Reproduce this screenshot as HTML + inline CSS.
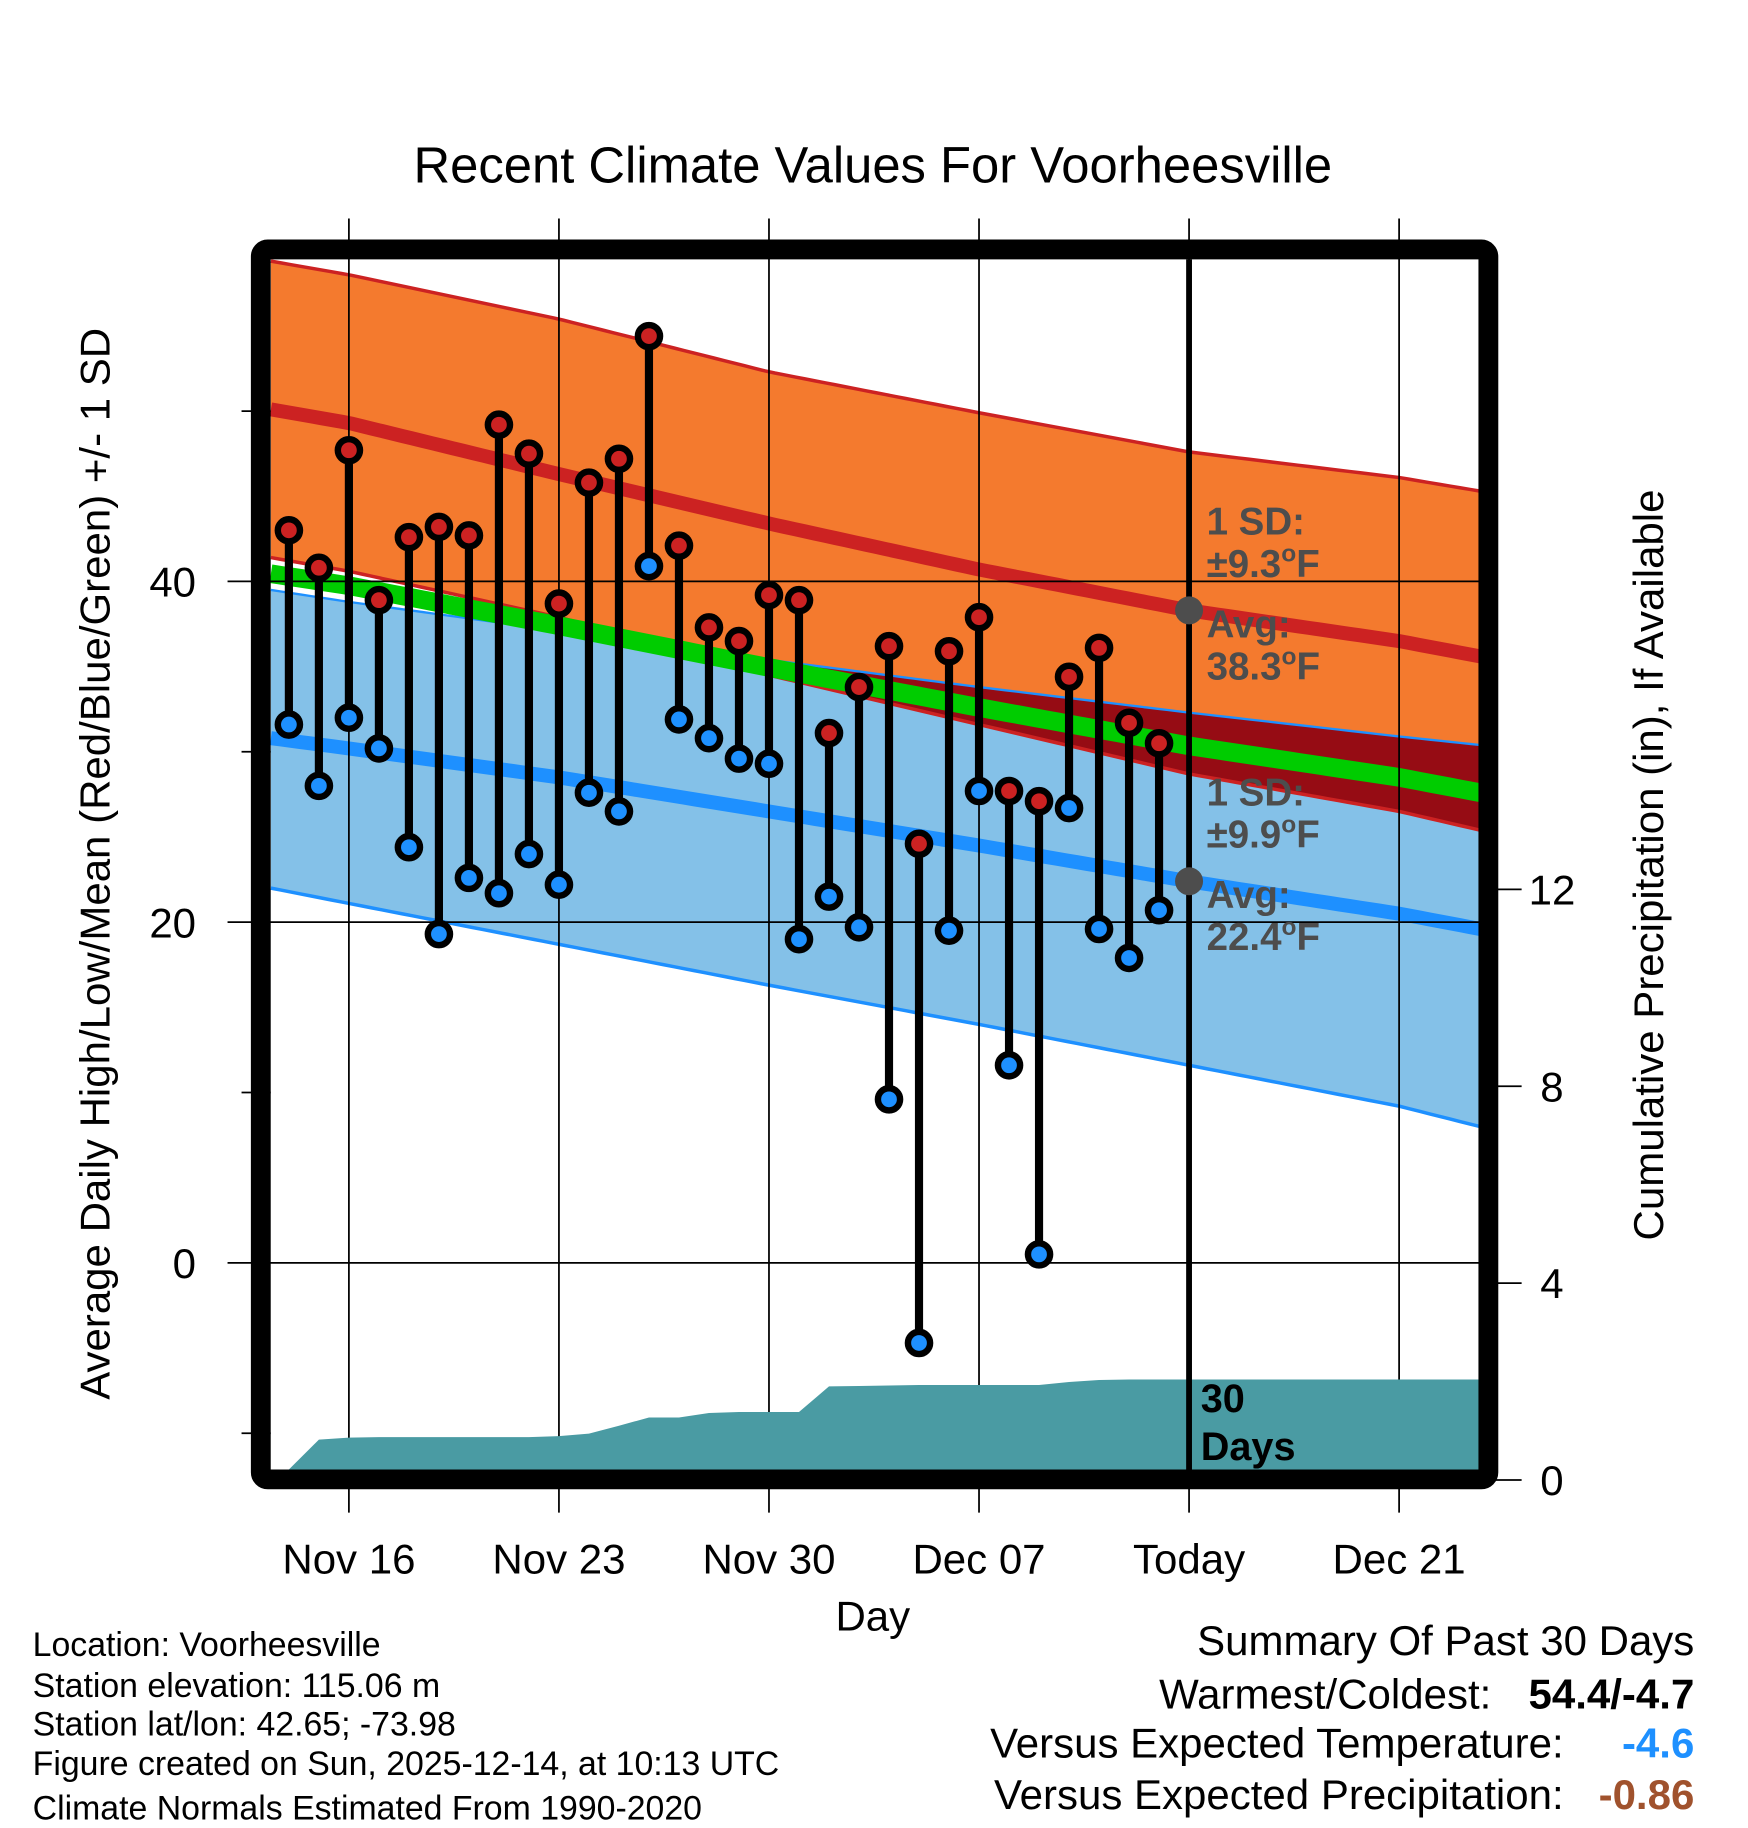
<!DOCTYPE html>
<html><head><meta charset="utf-8"><style>
html,body{margin:0;padding:0;background:#fff;}
svg{display:block;font-family:"Liberation Sans",Arial,sans-serif;}
</style></head><body>
<svg id="chart" width="1748" height="1828" viewBox="0 0 1498 1566" xmlns="http://www.w3.org/2000/svg">
<g id="bands"></g>
<g id="grid"></g>
<g id="precip"></g>
<g id="marks"></g>
<g id="frame"></g>
<g id="labels">
<text x="748" y="156" font-size="43.5" text-anchor="middle">Recent Climate Values For Voorheesville</text>
<text transform="translate(94,740) rotate(-90)" font-size="36" text-anchor="middle">Average Daily High/Low/Mean (Red/Blue/Green) +/- 1 SD</text>
<text transform="translate(1425,741) rotate(-90)" font-size="36" text-anchor="middle">Cumulative Precipitation (in), If Available</text>
<text x="748" y="1397" font-size="36" text-anchor="middle">Day</text>
<g font-size="33" font-weight="bold" fill="#4d4d4d">
<text x="1034" y="458">1 SD:</text>
<text x="1034" y="494">±9.3<tspan dy="-13" font-size="21">o</tspan><tspan dy="13">F</tspan></text>
<text x="1034" y="546">Avg:</text>
<text x="1034" y="582">38.3<tspan dy="-13" font-size="21">o</tspan><tspan dy="13">F</tspan></text>
<text x="1034" y="690">1 SD:</text>
<text x="1034" y="726">±9.9<tspan dy="-13" font-size="21">o</tspan><tspan dy="13">F</tspan></text>
<text x="1034" y="778">Avg:</text>
<text x="1034" y="814">22.4<tspan dy="-13" font-size="21">o</tspan><tspan dy="13">F</tspan></text>
</g>
<text x="1029" y="1210" font-size="34" font-weight="bold">30</text>
<text x="1029" y="1251" font-size="34" font-weight="bold">Days</text>
<g font-size="29">
<text x="28" y="1419">Location: Voorheesville</text>
<text x="28" y="1454">Station elevation: 115.06 m</text>
<text x="28" y="1487">Station lat/lon: 42.65; -73.98</text>
<text x="28" y="1521">Figure created on Sun, 2025-12-14, at 10:13 UTC</text>
<text x="28" y="1559">Climate Normals Estimated From 1990-2020</text>
</g>
<g font-size="36" text-anchor="end">
<text x="1452" y="1418">Summary Of Past 30 Days</text>
<text x="1278" y="1464">Warmest/Coldest:</text>
<text x="1452" y="1464" font-weight="bold">54.4/-4.7</text>
<text x="1340" y="1506">Versus Expected Temperature:</text>
<text x="1452" y="1506" font-weight="bold" fill="#1e90ff">-4.6</text>
<text x="1340" y="1550">Versus Expected Precipitation:</text>
<text x="1452" y="1550" font-weight="bold" fill="#a0522d">-0.86</text>
</g>
</g>
</svg>
<script>
// day numbers: Nov 1 = 1, Dec 1 = 31
const normDays   = [13.4, 16, 23, 30, 37, 44, 51, 53.7];
const highTop    = [58.8, 58.0, 55.4, 52.3, 49.9, 47.6, 46.1, 45.3];
const highMean   = [50.1, 49.3, 46.3, 43.4, 40.7, 38.3, 36.5, 35.6];
const highBot    = [41.4, 40.6, 37.9, 34.5, 31.6, 28.7, 26.5, 25.4];
const lowTop     = [39.5, 38.8, 37.1, 35.4, 33.8, 32.3, 30.9, 30.4];
const lowMean    = [30.8, 30.2, 28.5, 26.5, 24.5, 22.4, 20.5, 19.6];
const lowBot     = [22.0, 21.1, 18.7, 16.3, 14.0, 11.6, 9.2, 8.0];
const obsDays    = [14,15,16,17,18,19,20,21,22,23,24,25,26,27,28,29,30,31,32,33,34,35,36,37,38,39,40,41,42,43];
const highs      = [43.0,40.8,47.7,38.9,42.6,43.2,42.7,49.2,47.5,38.7,45.8,47.2,54.4,42.1,37.3,36.5,39.2,38.9,31.1,33.8,36.2,24.6,35.9,37.9,27.7,27.1,34.4,36.1,31.7,30.5];
const lows       = [31.6,28.0,32.0,30.2,24.4,19.3,22.6,21.7,24.0,22.2,27.6,26.5,40.9,31.9,30.8,29.6,29.3,19.0,21.5,19.7,9.6,-4.7,19.5,27.7,11.6,0.5,26.7,19.6,17.9,20.7];
const precipDays = [14,15,16,17,18,19,20,21,22,23,24,25,26,27,28,29,30,31,32,33,34,35,36,37,38,39,40,41,42,43,53.7];
const precip     = [0,0.82,0.86,0.87,0.87,0.87,0.87,0.87,0.87,0.89,0.94,1.10,1.27,1.27,1.36,1.38,1.38,1.38,1.90,1.91,1.92,1.93,1.93,1.93,1.93,1.93,1.99,2.03,2.04,2.04,2.04];
const xTickDays  = [16,23,30,37,44,51];
const xTickLabels= ["Nov 16","Nov 23","Nov 30","Dec 07","Today","Dec 21"];
const yTicks     = [0,20,40];
const yMinor     = [-10,10,30,50];
const y2Ticks    = [0,4,8,12];
const todayDay   = 44;

const NS="http://www.w3.org/2000/svg";
const X0=232,X1=1268,Y0=222,Y1=1259;
const xS=d=>299+(d-16)*180/7;
const yS=t=>1082-t*292/20;
const pS=p=>1268-p*168.7/4;
function mk(tag,attrs,parent){const e=document.createElementNS(NS,tag);for(const k in attrs)e.setAttribute(k,attrs[k]);parent.appendChild(e);return e;}
function interp(arr,d){for(let i=0;i<normDays.length-1;i++){if(d<=normDays[i+1]){const f=(d-normDays[i])/(normDays[i+1]-normDays[i]);return arr[i]+f*(arr[i+1]-arr[i]);}}return arr[arr.length-1];}
const samp=[];for(let i=0;i<=120;i++)samp.push(normDays[0]+(normDays[normDays.length-1]-normDays[0])*i/120);
const bands=document.getElementById('bands');
function band(top,bot,fill,name){
  let pts=samp.map(d=>xS(d)+','+yS(top(d))).concat(samp.slice().reverse().map(d=>xS(d)+','+yS(bot(d))));
  const p=mk('polygon',{points:pts.join(' '),fill:fill},bands);
  
  
}
function line(f,color,w,name){
  const p=mk('polyline',{points:samp.map(d=>xS(d)+','+yS(f(d))).join(' '),fill:'none',stroke:color,'stroke-width':w},bands);
  
  
}
band(d=>interp(highTop,d),d=>interp(highBot,d),'#f47a2e','high-sd-band');
band(d=>interp(lowTop,d),d=>interp(lowBot,d),'#84c1e8','low-sd-band');
band(d=>interp(lowTop,d),d=>Math.min(interp(lowTop,d),interp(highBot,d)),'#960c14','overlap-band');
line(d=>interp(highTop,d),'#cc2222',3,'high-top-edge');
line(d=>interp(highBot,d),'#cc2222',3,'high-bottom-edge');
line(d=>interp(lowTop,d),'#1e90ff',2,'low-top-edge');
line(d=>interp(lowBot,d),'#1e90ff',3,'low-bottom-edge');
line(d=>(interp(highMean,d)+interp(lowMean,d))/2,'#00cc00',16,'mean-line');
line(d=>interp(highMean,d),'#cc2222',12,'high-mean-line');
line(d=>interp(lowMean,d),'#1e90ff',12,'low-mean-line');

const grid=document.getElementById('grid');
xTickDays.forEach((d,i)=>{
  const g=mk('line',{x1:xS(d),x2:xS(d),y1:187,y2:1296,stroke:'#000','stroke-width':1.5},grid);
  
  
  const t=mk('text',{x:xS(d),y:1348,'font-size':36,'text-anchor':'middle'},grid);
  
  
  t.textContent=xTickLabels[i];
});
yTicks.forEach(v=>{
  const g=mk('line',{x1:195,x2:X1,y1:yS(v),y2:yS(v),stroke:'#000','stroke-width':1.5},grid);
  
  
  const t=mk('text',{x:168,y:yS(v)+13,'font-size':36,'text-anchor':'end'},grid);
  
  
  t.textContent=v;
});
yMinor.forEach(v=>{
  const g=mk('line',{x1:207,x2:X0,y1:yS(v),y2:yS(v),stroke:'#000','stroke-width':1.5},grid);
  
  
});
y2Ticks.forEach(v=>{
  const g=mk('line',{x1:1276,x2:1304,y1:pS(v),y2:pS(v),stroke:'#000','stroke-width':1.5},grid);
  
  
  const t=mk('text',{x:1330,y:pS(v)+13,'font-size':36,'text-anchor':'middle'},grid);
  
  
  t.textContent=v;
});

const pg=document.getElementById('precip');
let pp=[xS(precipDays[0])+','+Y1];
precipDays.forEach((d,i)=>pp.push(Math.min(xS(d),X1)+','+Math.min(pS(precip[i]),Y1)));
pp.push(X1+','+Y1);
const pa=mk('polygon',{points:pp.join(' '),fill:'#4a9ba3'},pg);


const tl=mk('line',{x1:xS(todayDay),x2:xS(todayDay),y1:Y0,y2:Y1,stroke:'#000','stroke-width':5},pg);


[interp(highMean,todayDay),interp(lowMean,todayDay)].forEach(v=>{
  const c=mk('circle',{cx:xS(todayDay),cy:yS(v),r:12,fill:'#4d4d4d'},pg);
  
  
});

const mg=document.getElementById('marks');
obsDays.forEach((d,i)=>{
  const l=mk('line',{x1:xS(d),x2:xS(d),y1:yS(highs[i]),y2:yS(lows[i]),stroke:'#000','stroke-width':7},mg);
  
  
});
obsDays.forEach((d,i)=>{
  const h=mk('circle',{cx:xS(d),cy:yS(highs[i]),r:9.5,fill:'#cc2222',stroke:'#000','stroke-width':5.5},mg);
  
  
  const lo=mk('circle',{cx:xS(d),cy:yS(lows[i]),r:9.5,fill:'#1e90ff',stroke:'#000','stroke-width':5.5},mg);
  
  
});

const fr=document.getElementById('frame');
const r=mk('rect',{x:223.5,y:213.5,width:1052,height:1054,rx:6,fill:'none',stroke:'#000','stroke-width':17},fr);


</script>
</body></html>
